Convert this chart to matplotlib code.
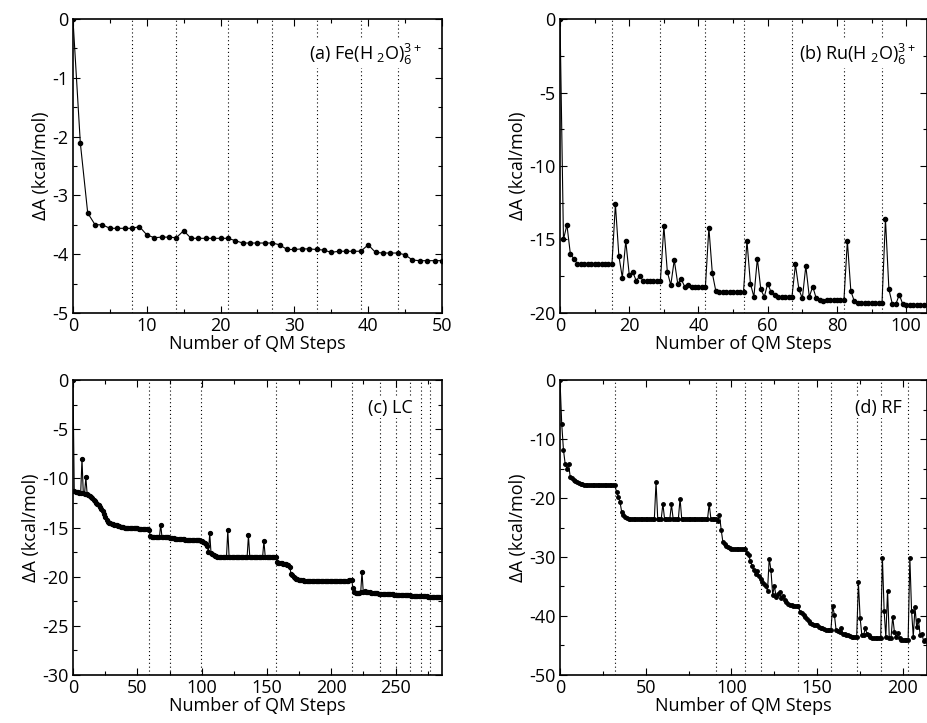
from matplotlib import pyplot as plt
from matplotlib.ticker import MultipleLocator
import numpy as np

plt.rcParams['font.family'] = ['Open Sans', 'DejaVu Sans']
plt.rcParams['mathtext.default'] = 'regular'
plt.rcParams['font.size'] = 12
plt.rcParams['axes.unicode_minus'] = False  # plain hyphen like the original

# (a) Fe(H2O)6 3+
fe_vals = [0.0, -2.11, -3.30, -3.50, -3.50, -3.56, -3.56, -3.56, -3.56, -3.53,
           -3.67, -3.72, -3.71, -3.71, -3.72, -3.60, -3.73, -3.73, -3.73, -3.73,
           -3.73, -3.73, -3.77, -3.81, -3.81, -3.81, -3.81, -3.81, -3.84, -3.92,
           -3.92, -3.91, -3.91, -3.92, -3.93, -3.97, -3.95, -3.95, -3.95, -3.95,
           -3.84, -3.97, -3.98, -3.98, -3.98, -4.01, -4.10, -4.11, -4.11, -4.11, -4.11]
fe_cycles = [8, 14, 21, 27, 33, 39, 44]

# (b) Ru(H2O)6 3+
ru_vals = [0.0, -15.0, -14.0, -16.0, -16.3, -16.65, -16.7, -16.7, -16.7, -16.7,
           -16.7, -16.7, -16.7, -16.7, -16.7, -16.7, -12.6, -16.1, -17.6, -15.1,
           -17.4, -17.2, -17.8, -17.5, -17.8, -17.8, -17.8, -17.8, -17.8, -17.8,
           -14.1, -17.2, -18.1, -16.4, -18.0, -17.7, -18.2, -18.1, -18.2, -18.2,
           -18.2, -18.2, -18.2, -14.2, -17.3, -18.5, -18.55, -18.55, -18.55, -18.55,
           -18.55, -18.55, -18.55, -18.55, -15.1, -18.0, -18.9, -16.3, -18.4, -18.9,
           -18.0, -18.6, -18.8, -18.9, -18.9, -18.9, -18.9, -18.9, -16.7, -18.4,
           -19.0, -16.8, -18.9, -18.2, -19.0, -19.1, -19.2, -19.1, -19.15, -19.15,
           -19.15, -19.15, -19.15, -15.1, -18.5, -19.2, -19.35, -19.35, -19.35, -19.35,
           -19.35, -19.35, -19.35, -19.35, -13.6, -18.4, -19.4, -19.4, -18.75, -19.4,
           -19.45, -19.45, -19.45, -19.45, -19.45, -19.45]
ru_cycles = [15, 29, 42, 53, 67, 82, 93]

# (c) LC
lc_vals = [0.0, -11.3, -11.35, -11.4, -11.4, -11.45, -11.5, -8.0, -11.5, -11.55,
           -9.9, -11.6, -11.7, -11.8, -11.9, -12.0, -12.2, -12.3, -12.5, -12.6,
           -12.7, -12.9, -13.1, -13.3, -13.6, -13.9, -14.2, -14.4, -14.5, -14.55,
           -14.6, -14.65, -14.7, -14.7, -14.75, -14.8, -14.85, -14.9, -14.9, -14.95,
           -15.0, -15.0, -15.05, -15.05, -15.1, -15.1, -15.1, -15.1, -15.1, -15.1,
           -15.1, -15.12, -15.12, -15.12, -15.12, -15.15, -15.15, -15.15, -15.15, -15.3,
           -15.9, -16.0, -16.0, -16.0, -16.0, -16.0, -16.0, -16.0, -14.7, -16.0,
           -16.0, -16.0, -16.0, -16.0, -16.0, -16.05, -16.1, -16.1, -16.1, -16.15,
           -16.15, -16.15, -16.2, -16.2, -16.2, -16.2, -16.2, -16.25, -16.25, -16.25,
           -16.25, -16.25, -16.3, -16.3, -16.3, -16.3, -16.3, -16.3, -16.3, -16.35,
           -16.4, -16.5, -16.6, -16.7, -16.9, -17.5, -15.6, -17.6, -17.7, -17.8,
           -17.85, -17.9, -17.95, -17.95, -17.95, -17.95, -17.95, -17.95, -17.95, -17.95,
           -15.3, -17.95, -17.95, -17.95, -17.95, -17.95, -17.95, -17.95, -17.95, -17.95,
           -17.95, -17.95, -17.95, -17.95, -17.95, -17.95, -15.8, -17.95, -17.95, -17.95,
           -17.95, -17.95, -17.95, -17.95, -17.95, -17.95, -17.95, -17.95, -16.4, -17.95,
           -17.95, -17.95, -17.95, -17.95, -17.95, -17.95, -17.95, -17.95, -18.5, -18.6,
           -18.6, -18.65, -18.65, -18.7, -18.7, -18.75, -18.8, -18.8, -19.0, -19.7,
           -19.8, -20.0, -20.1, -20.2, -20.25, -20.3, -20.3, -20.35, -20.35, -20.4,
           -20.4, -20.4, -20.4, -20.4, -20.4, -20.4, -20.4, -20.4, -20.4, -20.4,
           -20.4, -20.4, -20.4, -20.4, -20.4, -20.4, -20.4, -20.4, -20.4, -20.4,
           -20.4, -20.4, -20.4, -20.4, -20.4, -20.4, -20.4, -20.4, -20.4, -20.4,
           -20.4, -20.4, -20.4, -20.4, -20.35, -20.3, -20.3, -21.2, -21.6, -21.7,
           -21.7, -21.65, -21.65, -21.6, -19.5, -21.6, -21.5, -21.55, -21.6, -21.6,
           -21.6, -21.65, -21.65, -21.7, -21.7, -21.7, -21.7, -21.75, -21.75, -21.75,
           -21.75, -21.75, -21.8, -21.8, -21.8, -21.8, -21.8, -21.8, -21.8, -21.85,
           -21.85, -21.85, -21.85, -21.85, -21.85, -21.9, -21.9, -21.9, -21.9, -21.9,
           -21.9, -21.9, -21.95, -21.95, -21.95, -21.95, -21.95, -21.95, -22.0, -22.0,
           -22.0, -22.0, -22.0, -22.0, -22.0, -22.05, -22.05, -22.05, -22.05, -22.05,
           -22.05, -22.1, -22.1, -22.1, -22.1, -22.1, -22.1]
lc_cycles = [59, 75, 99, 157, 216, 238, 250, 261, 270, 277]

# (d) RF
rf_vals = [0.0, -7.4, -11.8, -14.2, -15.0, -14.3, -16.5, -16.6, -16.9, -17.1,
           -17.3, -17.5, -17.6, -17.7, -17.75, -17.8, -17.85, -17.85, -17.85, -17.85,
           -17.85, -17.85, -17.85, -17.85, -17.85, -17.85, -17.85, -17.85, -17.85, -17.85,
           -17.85, -17.85, -17.85, -19.0, -19.8, -20.7, -22.4, -22.9, -23.2, -23.4,
           -23.5, -23.55, -23.6, -23.6, -23.6, -23.6, -23.6, -23.6, -23.6, -23.6,
           -23.6, -23.6, -23.6, -23.6, -23.6, -23.6, -17.3, -23.6, -23.6, -23.6,
           -21.0, -23.6, -23.6, -23.6, -23.6, -21.1, -23.6, -23.6, -23.6, -23.6,
           -20.1, -23.6, -23.6, -23.6, -23.6, -23.6, -23.6, -23.6, -23.6, -23.6,
           -23.6, -23.6, -23.6, -23.6, -23.6, -23.6, -23.6, -21.0, -23.6, -23.6,
           -23.6, -23.6, -23.9, -22.9, -25.4, -27.5, -27.8, -28.1, -28.3, -28.5,
           -28.6, -28.7, -28.7, -28.7, -28.7, -28.7, -28.7, -28.7, -28.7, -29.4,
           -29.7, -30.6, -31.5, -32.2, -32.9, -32.4, -33.3, -33.7, -34.2, -34.6,
           -35.0, -35.7, -30.3, -32.2, -36.4, -34.9, -36.7, -36.3, -36.0, -37.0,
           -36.6, -37.3, -37.7, -37.9, -38.1, -38.2, -38.3, -38.3, -38.3, -38.3,
           -39.3, -39.5, -39.8, -40.2, -40.5, -40.8, -41.2, -41.4, -41.5, -41.5,
           -41.6, -41.9, -42.0, -42.1, -42.2, -42.3, -42.3, -42.3, -42.3, -38.3,
           -39.8, -42.4, -42.5, -42.7, -42.1, -43.0, -43.1, -43.2, -43.3, -43.4,
           -43.5, -43.5, -43.5, -43.5, -34.3, -40.3, -43.2, -43.3, -42.1, -43.0,
           -43.3, -43.5, -43.7, -43.7, -43.7, -43.7, -43.7, -43.7, -30.1, -39.1,
           -43.6, -35.7, -43.7, -43.8, -40.1, -42.7, -43.6, -42.8, -43.7, -44.0,
           -44.0, -44.0, -44.0, -44.0, -30.1, -39.1, -43.5, -38.5, -41.9, -40.7,
           -43.2, -43.0, -44.2, -44.1, -44.2]
rf_cycles = [32, 91, 108, 117, 139, 158, 173, 187, 203]

labels = [r'(a) Fe(H$_{\ 2}$O)$_6^{3+}$', r'(b) Ru(H$_{\ 2}$O)$_6^{3+}$', '(c) LC', '(d) RF']

fig = plt.figure(figsize=(9.27, 7.23), dpi=100)

def panel(rect, vals, cycles, xmax, ymin, xmaj, xmin_, ymaj, ymin_, label, lx, ly, ms):
    ax = fig.add_axes(rect)
    steps = np.arange(len(vals))
    for c in cycles:
        ax.axvline(c, color='k', linestyle=(0, (1, 2.5)), linewidth=0.8, zorder=1)
    ax.plot(steps, vals, color='k', linestyle='-', linewidth=0.8, marker='o',
            markersize=ms, zorder=3)
    ax.set_xlim(0, xmax)
    ax.set_ylim(ymin, 0)
    ax.xaxis.set_major_locator(MultipleLocator(xmaj))
    ax.xaxis.set_minor_locator(MultipleLocator(xmin_))
    ax.yaxis.set_major_locator(MultipleLocator(ymaj))
    ax.yaxis.set_minor_locator(MultipleLocator(ymin_))
    ax.tick_params(which='both', direction='in', top=True, right=True, labelsize=13, pad=3)
    ax.tick_params(which='major', length=5, width=0.8)
    ax.tick_params(which='minor', length=3, width=0.8)
    for spine in ax.spines.values():
        spine.set_linewidth(1.2)
    ax.set_xlabel('Number of QM Steps', fontsize=13, labelpad=0)
    ax.set_ylabel(r'ΔA (kcal/mol)', fontsize=13, labelpad=2)
    ax.text(lx, ly, label, transform=ax.transAxes, ha='right', va='center', fontsize=13,
            bbox=dict(facecolor='white', edgecolor='none', pad=1), zorder=4)
    return ax

panel([0.0787, 0.5671, 0.3981, 0.4066], fe_vals, fe_cycles, 50, -5, 10, 5, 1, 0.5,
      labels[0], 0.945, 0.88, 3)
panel([0.6041, 0.5671, 0.3959, 0.4066], ru_vals, ru_cycles, 106, -20, 20, 10, 5, 2.5,
      labels[1], 0.97, 0.88, 3)
panel([0.0787, 0.0664, 0.3981, 0.4080], lc_vals, lc_cycles, 286, -30, 50, 25, 5, 2.5,
      labels[2], 0.92, 0.905, 2.8)
panel([0.6041, 0.0664, 0.3959, 0.4080], rf_vals, rf_cycles, 214, -50, 50, 25, 10, 5,
      labels[3], 0.93, 0.905, 2.5)

plt.savefig('out.png', dpi=100)
